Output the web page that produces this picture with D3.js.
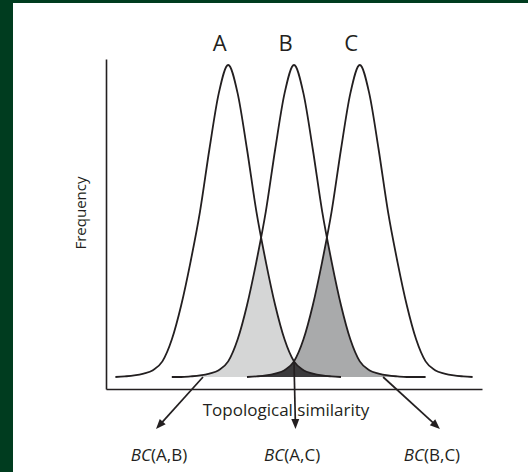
<!DOCTYPE html>
<html><head><meta charset="utf-8">
<script src="https://cdn.jsdelivr.net/npm/d3@7"></script>
<style>
html,body{margin:0;padding:0;background:#003c1f;}
svg{display:block;}
text{font-family:"Open Sans","Noto Sans",sans-serif;fill:#231f20;}
</style></head><body>
<svg id="chart" width="528" height="472"></svg>
<script>
// Three shifted frequency distributions of topological similarity
const curveNames = ["A", "B", "C"];
const curveCenters = [32.5, 50, 67.5];
// how far each curve runs to the left / right of its centre
const tailLeft = [30, 32.5, 30];
const tailRight = [30, 35, 30];
const profileStep = 2.5;
// relative frequency at offsets 0, 2.5, 5, ... from a curve's centre
const profile = [1.00, 0.91, 0.73, 0.53, 0.37, 0.23, 0.12, 0.05, 0.022, 0.011, 0.005, 0.002, 0, 0, 0];

// overlap regions (pairs of curve indices) and their fills
const overlapPairs = [[0, 1], [1, 2], [0, 2]];
const overlapFills = ["#d5d6d6", "#a9aaab", "#3b3a3c"];

// Bhattacharyya coefficient labels and the arrows pointing at them
const bcPairs = ["A,B", "A,C", "B,C"];
const bcLabelX = [14.1, 49.5, 86.7];
const arrowFromX = [25.8, 50, 73.7];
const arrowToX = [13.3, 50.4, 88.8];

const axisTitleX = "Topological similarity";
const axisTitleY = "Frequency";

const svg = d3.select("#chart");
const ink = "#231f20";

// panel
svg.append("rect").attr("x", 13).attr("y", 3).attr("width", 515).attr("height", 469).attr("fill", "#fff");

const x = d3.scaleLinear().domain([0, 100]).range([106, 482]);
const y = d3.scaleLinear().domain([0, 1]).range([377, 65]);

function curvePoints(i) {
  const pts = [];
  const kMin = -Math.round(tailLeft[i] / profileStep);
  const kMax = Math.round(tailRight[i] / profileStep);
  for (let k = kMin; k <= kMax; k++) {
    pts.push({ x: curveCenters[i] + k * profileStep, v: profile[Math.abs(k)] });
  }
  return pts;
}
function valueAt(i, xv) {
  const k = Math.round((xv - curveCenters[i]) / profileStep);
  if (k < -Math.round(tailLeft[i] / profileStep) || k > Math.round(tailRight[i] / profileStep)) return 0;
  return profile[Math.abs(k)] || 0;
}

const curves = curveNames.map((n, i) => ({ name: n, pts: curvePoints(i) }));

const area = d3.area().x(d => x(d.x)).y0(y(0)).y1(d => y(d.v)).curve(d3.curveMonotoneX);
const line = d3.line().x(d => x(d.x)).y(d => y(d.v)).curve(d3.curveMonotoneX);

const defs = svg.append("defs");
curves.forEach((c, i) => {
  defs.append("clipPath").attr("id", "under-" + c.name)
    .append("path").attr("d", area(c.pts));
});

// shaded overlaps: area under one curve clipped to the area under the other
overlapPairs.forEach(([a, b], k) => {
  svg.append("path")
    .attr("d", area(curves[a].pts))
    .attr("clip-path", `url(#under-${curves[b].name})`)
    .attr("fill", overlapFills[k]);
});

// distribution outlines
svg.selectAll("path.dist").data(curves).join("path")
  .attr("class", "dist")
  .attr("d", d => line(d.pts))
  .attr("fill", "none").attr("stroke", ink).attr("stroke-width", 1.8);

// curve names
svg.selectAll("text.name").data(curves).join("text")
  .attr("class", "name")
  .attr("x", (d, i) => x(curveCenters[i]) - 8.5)
  .attr("y", 51)
  .attr("text-anchor", "middle")
  .attr("font-size", 22)
  .text(d => d.name);

// axes (frame only)
const yFrame = d3.scaleLinear().domain([0, 1]).range([389, 59]);
svg.append("g").attr("transform", `translate(0,${yFrame(0)})`)
  .call(d3.axisBottom(x).tickValues([]).tickSizeOuter(0))
  .call(g => g.select(".domain").attr("stroke", ink).attr("stroke-width", 1.6));
svg.append("g").attr("transform", `translate(${x(0)},0)`)
  .call(d3.axisLeft(yFrame).tickValues([]).tickSizeOuter(0))
  .call(g => g.select(".domain").attr("stroke", ink).attr("stroke-width", 1.6));

svg.append("text")
  .attr("x", 286).attr("y", 416)
  .attr("text-anchor", "middle").attr("font-size", 17)
  .text(axisTitleX);
svg.append("text")
  .attr("transform", `translate(86,${(yFrame(0) + yFrame(1)) / 2 - 11}) rotate(-90)`)
  .attr("text-anchor", "middle").attr("font-size", 15)
  .text(axisTitleY);

// arrows to the overlap labels, each ending in a solid triangular head
const tipY = 429;
const headLen = 10, headHalf = 4;
bcPairs.forEach((p, i) => {
  const startV = i === 1 ? Math.min(valueAt(0, arrowFromX[i]), valueAt(2, arrowFromX[i])) : 0;
  const x1 = x(arrowFromX[i]), y1 = y(startV);
  const x2 = x(arrowToX[i]), y2 = tipY;
  const len = Math.hypot(x2 - x1, y2 - y1);
  const ux = (x2 - x1) / len, uy = (y2 - y1) / len;
  const bx = x2 - ux * headLen, by = y2 - uy * headLen;
  svg.append("line")
    .attr("x1", x1).attr("y1", y1)
    .attr("x2", bx + ux * 1).attr("y2", by + uy * 1)
    .attr("stroke", ink).attr("stroke-width", 1.7);
  svg.append("path")
    .attr("d", `M${x2},${y2}L${bx - uy * headHalf},${by + ux * headHalf}L${bx + uy * headHalf},${by - ux * headHalf}Z`)
    .attr("fill", ink);
  const t = svg.append("text")
    .attr("x", x(bcLabelX[i])).attr("y", 461)
    .attr("text-anchor", "middle").attr("font-size", 17);
  t.append("tspan").attr("font-style", "italic").text("BC");
  t.append("tspan").text(`(${p})`);
});
</script>
</body></html>
